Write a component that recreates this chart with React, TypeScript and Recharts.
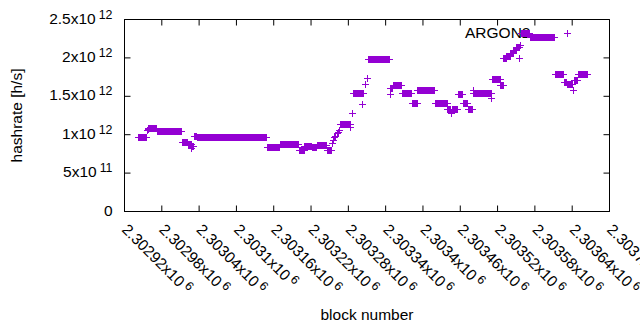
import React from 'react';
import { ScatterChart, Scatter, XAxis, YAxis, Legend, Label, ReferenceArea } from 'recharts';

const FONT = '"Liberation Sans", Arial, sans-serif';
const FS = 15.5;
const SUP = 12.4;
const PURPLE = '#9400d3';

const W = 640;
const H = 330;
const MARGIN = { top: 19.5, right: 30.5, bottom: 0, left: 0 };
const Y_AXIS_W = 124.5;
const X_AXIS_H = 118.5;
const PLOT_TOP = MARGIN.top;
const PLOT_RIGHT = W - MARGIN.right;
const TICK = 6;

// runs of consecutive blocks that share one hashrate (units of 10^12 h/s)
const runStart = [
  2302943, 2302957, 2302958, 2302959, 2302973, 2303013, 2303023, 2303028, 2303029, 2303033,
  2303037, 2303150, 2303171, 2303201, 2303210, 2303222, 2303230, 2303246, 2303254, 2303256,
  2303258, 2303260, 2303262, 2303264, 2303266, 2303268, 2303284, 2303287, 2303288, 2303303,
  2303305, 2303308, 2303311, 2303312, 2303347, 2303348, 2303352, 2303367, 2303383, 2303392,
  2303420, 2303440, 2303446, 2303447, 2303457, 2303465, 2303473, 2303481, 2303482, 2303511,
  2303512, 2303525, 2303530, 2303535, 2303541, 2303546, 2303551, 2303556, 2303557, 2303558,
  2303573, 2303613, 2303627, 2303632, 2303633, 2303642, 2303643, 2303650,
];
const runEnd = [
  2302956, 2302957, 2302958, 2302972, 2303012, 2303022, 2303027, 2303028, 2303031, 2303036,
  2303149, 2303170, 2303200, 2303209, 2303221, 2303229, 2303245, 2303253, 2303254, 2303256,
  2303258, 2303260, 2303262, 2303264, 2303266, 2303283, 2303284, 2303287, 2303302, 2303303,
  2303305, 2303308, 2303311, 2303346, 2303347, 2303351, 2303366, 2303382, 2303391, 2303419,
  2303439, 2303445, 2303446, 2303456, 2303464, 2303472, 2303480, 2303481, 2303510, 2303511,
  2303524, 2303529, 2303534, 2303540, 2303545, 2303550, 2303555, 2303556, 2303557, 2303572,
  2303612, 2303626, 2303631, 2303632, 2303641, 2303642, 2303649, 2303664,
];
const runValue = [
  0.967, 1.05, 1.07, 1.087, 1.04, 0.9, 0.87, 0.82, 0.85, 0.98,
  0.96, 0.827, 0.866, 0.8, 0.85, 0.83, 0.86, 0.8, 0.88, 0.92,
  0.96, 0.98, 1.01, 1.03, 1.06, 1.13, 1.09, 1.27, 1.54, 1.39,
  1.53, 1.66, 1.73, 1.98, 1.52, 1.6, 1.64, 1.53, 1.41, 1.57,
  1.4, 1.33, 1.27, 1.33, 1.52, 1.4, 1.33, 1.58, 1.54, 1.47,
  1.72, 1.64, 1.99, 2.02, 2.06, 2.1, 2.13, 1.99, 2.16, 2.32,
  2.26, 1.79, 1.68, 2.32, 1.65, 1.58, 1.7, 1.79,
];

const xTicks = [
  2302920, 2302980, 2303040, 2303100, 2303160, 2303220, 2303280,
  2303340, 2303400, 2303460, 2303520, 2303580, 2303640, 2303700,
];
const yTicks = [0, 5e11, 1e12, 1.5e12, 2e12, 2.5e12];
const xDomain = [2302920, 2303700];
const yDomain = [0, 2.5e12];

const points: { block: number; hashrate: number }[] = [];
runStart.forEach((s, i) => {
  for (let b = s; b <= runEnd[i]; b++) points.push({ block: b, hashrate: runValue[i] * 1e12 });
});

function expParts(v: number) {
  if (v === 0) return null;
  const e = Math.floor(Math.log10(v) + 1e-9);
  const m = parseFloat((v / Math.pow(10, e)).toPrecision(6));
  return { m: String(m), e: String(e) };
}

function PlusShape(props: any) {
  const { cx, cy } = props;
  return (
    <path
      d={`M${cx - 3.5},${cy}H${cx + 3.5}M${cx},${cy - 3.5}V${cy + 3.5}`}
      stroke={PURPLE}
      strokeWidth={1}
      fill="none"
      shapeRendering="crispEdges"
    />
  );
}

// left labels + the mirrored tick on the right border
function YTick({ x, y, payload }: any) {
  const p = expParts(payload.value);
  return (
    <g>
      <path d={`M${PLOT_RIGHT},${y}H${PLOT_RIGHT - TICK}`} stroke="#000" strokeWidth={1} />
      <text x={x} y={y} dy={4} textAnchor="end" fontFamily={FONT} fontSize={FS} fill="#000">
        {p ? (
          <>
            {p.m}x10
            <tspan dx={3} dy={-5} fontSize={SUP}>{p.e}</tspan>
          </>
        ) : '0'}
      </text>
    </g>
  );
}

// rotated bottom labels + the mirrored tick on the top border
function XTick({ x, y, payload }: any) {
  const p = expParts(payload.value)!;
  return (
    <g>
      <path d={`M${x},${PLOT_TOP}V${PLOT_TOP + TICK}`} stroke="#000" strokeWidth={1} />
      <g transform={`translate(${x - 3.5},${y})`}>
        <text transform="rotate(45)" fontFamily={FONT} fontSize={FS} fill="#000">
          {p.m}x10
          <tspan dx={3} dy={-5} fontSize={SUP}>{p.e}</tspan>
        </text>
      </g>
    </g>
  );
}

const frame = { stroke: '#000', strokeWidth: 1 };

export default function App() {
  return (
    <div style={{ position: 'absolute', left: 0, top: 0, width: W, height: H }}>
      <ScatterChart width={W} height={H} margin={MARGIN}>
        {/* plot border */}
        <ReferenceArea
          x1={xDomain[0]}
          x2={xDomain[1]}
          y1={yDomain[0]}
          y2={yDomain[1]}
          fill="none"
          fillOpacity={0}
          stroke="#000"
          strokeWidth={1}
          strokeOpacity={1}
        />
        <XAxis
          type="number"
          dataKey="block"
          domain={xDomain}
          ticks={xTicks}
          interval={0}
          height={X_AXIS_H}
          axisLine={frame}
          tickLine={frame}
          tickSize={-TICK}
          tickMargin={25}
          tick={<XTick />}
        >
          <Label
            content={({ viewBox }: any) => (
              <text
                x={viewBox.x + viewBox.width / 2}
                y={viewBox.y + 108.5}
                textAnchor="middle"
                fontFamily={FONT}
                fontSize={FS}
                fill="#000"
              >
                block number
              </text>
            )}
          />
        </XAxis>
        <YAxis
          type="number"
          dataKey="hashrate"
          domain={yDomain}
          ticks={yTicks}
          interval={0}
          width={Y_AXIS_W}
          axisLine={frame}
          tickLine={frame}
          tickSize={-TICK}
          tickMargin={18}
          tick={<YTick />}
        >
          <Label
            content={({ viewBox }: any) => (
              <text
                transform={`translate(22,${viewBox.y + viewBox.height / 2}) rotate(-90)`}
                textAnchor="middle"
                fontFamily={FONT}
                fontSize={FS}
                fill="#000"
              >
                hashrate [h/s]
              </text>
            )}
          />
        </YAxis>
        <Legend
          layout="horizontal"
          verticalAlign="middle"
          align="center"
          wrapperStyle={{ position: 'absolute', left: 465, top: 24, width: 'auto', height: 'auto', zIndex: -1 }}
          content={() => (
            <span style={{ fontFamily: FONT, fontSize: FS, lineHeight: 1, color: '#000' }}>ARGON2</span>
          )}
        />
        <Scatter
          name="ARGON2"
          data={points}
          fill={PURPLE}
          shape={PlusShape}
          isAnimationActive={false}
        />
      </ScatterChart>
    </div>
  );
}
